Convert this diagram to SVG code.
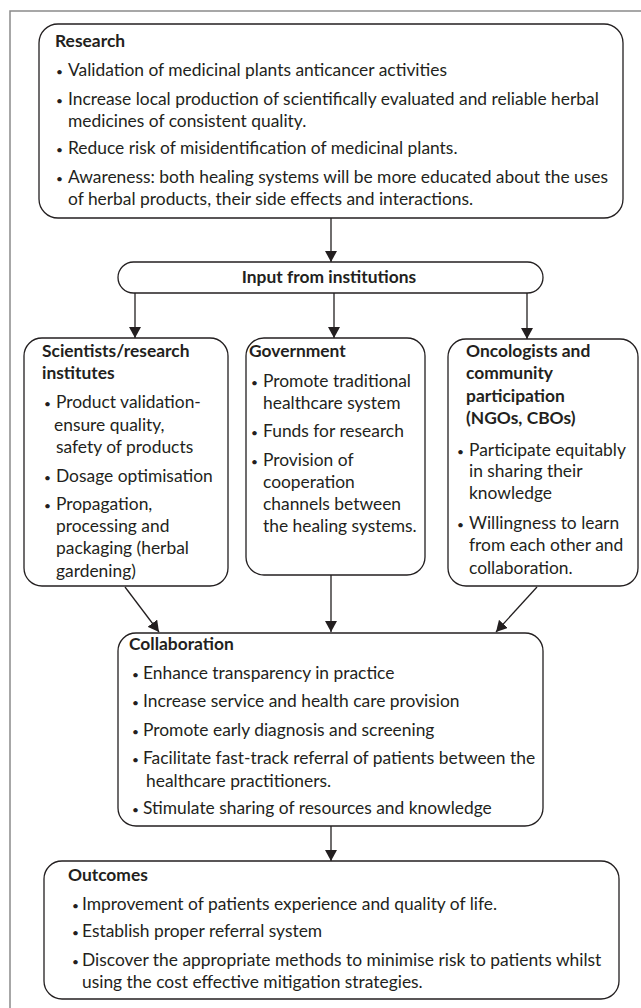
<svg xmlns="http://www.w3.org/2000/svg" width="641" height="1008" viewBox="0 0 641 1008">
<style>
.frame{fill:none;stroke:#8a8a8a;stroke-width:1.5}
.box{fill:#fff;stroke:#231f20;stroke-width:1.3}
.t{font-family:Lato,"Liberation Sans",sans-serif;font-size:17.4px;fill:#231f20}
.b{font-weight:bold}
.d{font-size:12px}
.c{stroke:#231f20;stroke-width:1.3;fill:none}
</style>
<defs>
<marker id="ah" markerUnits="userSpaceOnUse" markerWidth="12" markerHeight="12" refX="11" refY="6" orient="auto">
<path d="M0,0 L11,6 L0,12 z" fill="#231f20"/>
</marker>
</defs>
<rect class="frame" x="10" y="11" width="660" height="1020"/>
<g id="connectors">
<line class="c" x1="331" y1="218" x2="331" y2="262" marker-end="url(#ah)"/>
<line class="c" x1="135" y1="293" x2="135" y2="338" marker-end="url(#ah)"/>
<line class="c" x1="334" y1="293" x2="334" y2="338" marker-end="url(#ah)"/>
<line class="c" x1="527" y1="293" x2="527" y2="339" marker-end="url(#ah)"/>
<line class="c" x1="125" y1="587" x2="159" y2="632" marker-end="url(#ah)"/>
<line class="c" x1="331" y1="575" x2="331" y2="632" marker-end="url(#ah)"/>
<line class="c" x1="537" y1="587" x2="496" y2="632" marker-end="url(#ah)"/>
<line class="c" x1="331" y1="826" x2="331" y2="861" marker-end="url(#ah)"/>
</g>
<g id="research">
<rect class="box" x="39" y="24" width="584" height="194" rx="19"/>
<text class="t b" x="55" y="47">Research</text>
<text class="t" y="76"><tspan class="d" x="56">•</tspan><tspan x="68">Validation of medicinal plants anticancer activities</tspan></text>
<text class="t" y="105"><tspan class="d" x="56">•</tspan><tspan x="68">Increase local production of scientifically evaluated and reliable herbal</tspan></text>
<text class="t" x="68" y="127">medicines of consistent quality.</text>
<text class="t" y="154"><tspan class="d" x="56">•</tspan><tspan x="68">Reduce risk of misidentification of medicinal plants.</tspan></text>
<text class="t" y="183"><tspan class="d" x="56">•</tspan><tspan x="68">Awareness: both healing systems will be more educated about the uses</tspan></text>
<text class="t" x="68" y="205">of herbal products, their side effects and interactions.</text>
</g>
<g id="input">
<rect class="box" x="118" y="262" width="425" height="31" rx="15.5"/>
<text class="t b" x="329" y="283" text-anchor="middle">Input from institutions</text>
</g>
<g id="scientists">
<rect class="box" x="24" y="338" width="204" height="248" rx="18"/>
<text class="t b" x="42" y="357">Scientists/research</text>
<text class="t b" x="42" y="379">institutes</text>
<text class="t" y="408"><tspan class="d" x="44">•</tspan><tspan x="56">Product validation-</tspan></text>
<text class="t" x="54" y="431">ensure quality,</text>
<text class="t" x="56" y="453">safety of products</text>
<text class="t" y="482"><tspan class="d" x="44">•</tspan><tspan x="56">Dosage optimisation</tspan></text>
<text class="t" y="510"><tspan class="d" x="44">•</tspan><tspan x="56">Propagation,</tspan></text>
<text class="t" x="56" y="532">processing and</text>
<text class="t" x="56" y="554">packaging (herbal</text>
<text class="t" x="56" y="577">gardening)</text>
</g>
<g id="government">
<rect class="box" x="246" y="338" width="179" height="237" rx="18"/>
<text class="t b" x="249" y="357">Government</text>
<text class="t" y="387"><tspan class="d" x="251">•</tspan><tspan x="263">Promote traditional</tspan></text>
<text class="t" x="263" y="409">healthcare system</text>
<text class="t" y="437"><tspan class="d" x="251">•</tspan><tspan x="263">Funds for research</tspan></text>
<text class="t" y="466"><tspan class="d" x="251">•</tspan><tspan x="263">Provision of</tspan></text>
<text class="t" x="263" y="488">cooperation</text>
<text class="t" x="263" y="510">channels between</text>
<text class="t" x="263" y="532">the healing systems.</text>
</g>
<g id="oncologists">
<rect class="box" x="448" y="339" width="190" height="247" rx="18"/>
<text class="t b" x="466" y="357">Oncologists and</text>
<text class="t b" x="466" y="379">community</text>
<text class="t b" x="466" y="402">participation</text>
<text class="t b" x="466" y="424">(NGOs, CBOs)</text>
<text class="t" y="456"><tspan class="d" x="457">•</tspan><tspan x="469">Participate equitably</tspan></text>
<text class="t" x="469" y="477">in sharing their</text>
<text class="t" x="469" y="499">knowledge</text>
<text class="t" y="529"><tspan class="d" x="457">•</tspan><tspan x="469">Willingness to learn</tspan></text>
<text class="t" x="469" y="551">from each other and</text>
<text class="t" x="469" y="574">collaboration.</text>
</g>
<g id="collaboration">
<rect class="box" x="118" y="633" width="425" height="193" rx="18"/>
<text class="t b" x="129" y="650">Collaboration</text>
<text class="t" y="679"><tspan class="d" x="132">•</tspan><tspan x="143">Enhance transparency in practice</tspan></text>
<text class="t" y="707"><tspan class="d" x="132">•</tspan><tspan x="143">Increase service and health care provision</tspan></text>
<text class="t" y="736"><tspan class="d" x="132">•</tspan><tspan x="143">Promote early diagnosis and screening</tspan></text>
<text class="t" y="764"><tspan class="d" x="132">•</tspan><tspan x="143">Facilitate fast-track referral of patients between the</tspan></text>
<text class="t" x="146" y="787">healthcare practitioners.</text>
<text class="t" y="814"><tspan class="d" x="132">•</tspan><tspan x="143">Stimulate sharing of resources and knowledge</tspan></text>
</g>
<g id="outcomes">
<rect class="box" x="44" y="861" width="575" height="138" rx="18"/>
<text class="t b" x="68" y="881">Outcomes</text>
<text class="t" y="910"><tspan class="d" x="72">•</tspan><tspan x="82">Improvement of patients experience and quality of life.</tspan></text>
<text class="t" y="937"><tspan class="d" x="72">•</tspan><tspan x="82">Establish proper referral system</tspan></text>
<text class="t" y="966"><tspan class="d" x="72">•</tspan><tspan x="82">Discover the appropriate methods to minimise risk to patients whilst</tspan></text>
<text class="t" x="82" y="988">using the cost effective mitigation strategies.</text>
</g>
</svg>
